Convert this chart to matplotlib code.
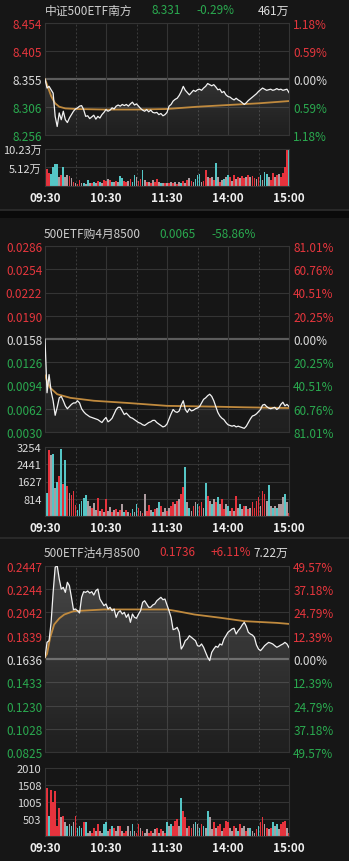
import matplotlib.pyplot as plt
from matplotlib.patches import PathPatch, Rectangle
from matplotlib.lines import Line2D
import numpy as np

plt.rcParams['font.family'] = ['Noto Sans CJK SC', 'DejaVu Sans']

BG = '#161616'
GRID = '#343434'
ZERO = '#5c5c5c'
RED = '#e5363d'
GREEN = '#2aa94f'
WHITE = '#dcdcdc'
LINE = '#f2f2f2'
AVG = '#c08a3e'
BAR = {'r': '#e6333d', 't': '#55c6c6', 'g': '#ad9ca0'}

# minutes since 09:30 (lunch break removed), one sample every 2 minutes
minutes = np.arange(0, 241, 2)
x_ticks = [0, 60, 120, 180, 240]
x_labels = ['09:30', '10:30', '11:30', '14:00', '15:00']

# ---- panel 1: 中证500ETF南方
p1 = [8.355, 8.339, 8.342, 8.336, 8.330, 8.289, 8.271, 8.295, 8.283, 8.298,
      8.283, 8.278, 8.286, 8.292, 8.298, 8.302, 8.304, 8.307, 8.308, 8.301,
      8.289, 8.290, 8.285, 8.288, 8.291, 8.284, 8.289, 8.286, 8.292, 8.296,
      8.301, 8.298, 8.300, 8.304, 8.302, 8.307, 8.309, 8.307, 8.310, 8.308,
      8.310, 8.307, 8.311, 8.314, 8.309, 8.311, 8.307, 8.303, 8.300, 8.298,
      8.301, 8.297, 8.300, 8.296, 8.295, 8.296, 8.292, 8.294, 8.290, 8.292,
      8.296, 8.307, 8.310, 8.316, 8.319, 8.321, 8.326, 8.333, 8.342, 8.335,
      8.331, 8.327, 8.331, 8.335, 8.333, 8.336, 8.337, 8.335, 8.339, 8.342,
      8.347, 8.345, 8.343, 8.345, 8.341, 8.336, 8.337, 8.331, 8.333, 8.327,
      8.324, 8.323, 8.320, 8.318, 8.321, 8.318, 8.316, 8.313, 8.310, 8.313,
      8.317, 8.320, 8.323, 8.326, 8.329, 8.333, 8.336, 8.339, 8.337, 8.335,
      8.336, 8.337, 8.335, 8.336, 8.338, 8.336, 8.337, 8.335, 8.336, 8.337,
      8.331]
avg1_t = [0, 2, 4, 6, 8, 10, 14, 20, 30, 60, 90, 120, 150, 180, 210, 240]
avg1_v = [8.355, 8.345, 8.335, 8.325, 8.318, 8.312, 8.306, 8.303, 8.302, 8.301,
          8.301, 8.302, 8.306, 8.309, 8.312, 8.316]
vol1 = [5.0, 4.6, 3.6, 3.4, 5.3, 6.2, 6.0, 2.5, 3.0, 5.3,
        2.6, 3.0, 2.7, 2.1, 1.2, 0.8, 0.6, 1.6, 0.7, 0.8,
        0.6, 1.6, 0.9, 0.8, 1.1, 0.7, 1.4, 1.2, 0.9, 1.7,
        1.4, 2.0, 1.6, 1.2, 1.0, 1.4, 1.1, 2.7, 2.1, 1.4,
        1.2, 1.5, 1.8, 1.2, 3.0, 2.5, 1.4, 1.8, 4.3, 1.6,
        1.2, 1.0, 0.8, 1.6, 1.2, 1.8, 1.0, 0.9, 0.7, 0.7,
        0.9, 0.8, 1.2, 0.7, 1.1, 0.6, 1.2, 0.8, 1.4, 0.9,
        1.6, 2.1, 1.4, 1.0, 1.8, 3.0, 3.4, 1.2, 1.4, 4.4,
        2.5, 2.1, 2.5, 1.6, 6.3, 2.6, 1.2, 1.6, 2.0, 2.4,
        3.0, 2.6, 1.5, 3.0, 1.8, 2.6, 2.2, 2.8, 2.3, 2.5,
        3.0, 2.6, 2.8, 2.2, 1.9, 2.6, 3.0, 1.6, 3.8, 3.4,
        2.6, 1.6, 3.6, 2.6, 3.0, 3.3, 2.6, 3.6, 5.3, 9.9,
        10.0]
vol1_c = ("trrttttgrt" "ggrgrgrrgt" "gtgrtgrtgr" "rgrtgrgttr" "rgrttgrrtg"
          "rgrgrrgtgr" "grgrgrgtrg" "rgrgtttgrr" "grgrtgrgtg" "trgrgrgrrg"
          "rgrrgrtgtt" "grrgrgrrrr" "t")
ticks1 = [8.256, 8.306, 8.355, 8.405, 8.454]
left1 = ['8.256', '8.306', '8.355', '8.405', '8.454']
right1 = ['1.18%', '0.59%', '0.00%', '0.59%', '1.18%']
vticks1 = [5.12, 10.23]
vlabels1 = ['5.12万', '10.23万']

# ---- panel 2: 500ETF购4月8500
p2 = [0.0158, 0.0084, 0.0109, 0.0086, 0.0073, 0.0053, 0.0064, 0.0077, 0.0079, 0.0073,
      0.0066, 0.0062, 0.0065, 0.0068, 0.0070, 0.0070, 0.0073, 0.0070, 0.0062, 0.0058,
      0.0055, 0.0053, 0.0051, 0.0050, 0.0049, 0.0048, 0.0047, 0.0045, 0.0043, 0.0047,
      0.0050, 0.0044, 0.0046, 0.0049, 0.0055, 0.0061, 0.0064, 0.0064, 0.0059, 0.0054,
      0.0056, 0.0053, 0.0050, 0.0049, 0.0047, 0.0045, 0.0043, 0.0042, 0.0040, 0.0039,
      0.0041, 0.0043, 0.0044, 0.0046, 0.0046, 0.0043, 0.0041, 0.0039, 0.0037, 0.0038,
      0.0041, 0.0048, 0.0055, 0.0061, 0.0058, 0.0057, 0.0059, 0.0067, 0.0073, 0.0061,
      0.0057, 0.0062, 0.0059, 0.0060, 0.0062, 0.0063, 0.0065, 0.0070, 0.0075, 0.0077,
      0.0080, 0.0082, 0.0079, 0.0073, 0.0065, 0.0057, 0.0052, 0.0049, 0.0047, 0.0043,
      0.0040, 0.0039, 0.0038, 0.0039, 0.0037, 0.0038, 0.0037, 0.0036, 0.0035, 0.0038,
      0.0043, 0.0048, 0.0052, 0.0053, 0.0055, 0.0058, 0.0061, 0.0067, 0.0068, 0.0065,
      0.0063, 0.0062, 0.0063, 0.0064, 0.0061, 0.0063, 0.0068, 0.0071, 0.0066, 0.0068,
      0.0065]
avg2_t = [0, 2, 5, 12, 25, 48, 81, 120, 163, 196, 240]
avg2_v = [0.0108, 0.0100, 0.0091, 0.0082, 0.0077, 0.0073, 0.0070, 0.0066, 0.0065,
          0.0064, 0.0063]
vol2 = [2142, 1100, 3095, 2857, 2936, 1300, 1600, 1900, 3174, 1500,
        2618, 1400, 1100, 1000, 1200, 500, 300, 550, 700, 850,
        1000, 700, 450, 400, 600, 300, 870, 250, 350, 200,
        800, 250, 430, 200, 300, 350, 200, 280, 560, 180,
        300, 200, 150, 320, 200, 560, 400, 250, 150, 1030,
        250, 500, 300, 180, 320, 400, 640, 480, 180, 400,
        250, 400, 480, 640, 560, 700, 800, 1030, 1350, 2300,
        640, 400, 250, 480, 640, 560, 480, 640, 400, 1540,
        950, 700, 560, 800, 640, 880, 560, 800, 320, 560,
        480, 250, 400, 250, 950, 400, 560, 320, 480, 480,
        320, 400, 640, 400, 720, 880, 480, 1190, 1030, 720,
        1470, 480, 400, 480, 400, 560, 560, 880, 1030, 640,
        160]
vol2_c = ("ttrgtgtrtr" "trgrrrtttt" "tggrggrgrg" "rggrgrgrgt" "rgrtgtrgrg"
          "rrgtrgtrgg" "rgrrgrgrrt" "gtgrgtrrgt" "rgtgrtgrrg" "tgrgrgtgrg"
          "rgrrrrgrrg" "tgtgtgggtg" "r")
ticks2 = [0.0030, 0.0062, 0.0094, 0.0126, 0.0158, 0.0190, 0.0222, 0.0254, 0.0286]
left2 = ['0.0030', '0.0062', '0.0094', '0.0126', '0.0158', '0.0190', '0.0222',
         '0.0254', '0.0286']
right2 = ['81.01%', '60.76%', '40.51%', '20.25%', '0.00%', '20.25%', '40.51%',
          '60.76%', '81.01%']
vticks2 = [814, 1627, 2441, 3254]
vlabels2 = ['814', '1627', '2441', '3254']

# ---- panel 3: 500ETF沽4月8500
p3 = [0.1650, 0.1782, 0.1796, 0.1956, 0.2217, 0.2436, 0.2450, 0.2334, 0.2246, 0.2261,
      0.2217, 0.2305, 0.2275, 0.2174, 0.2066, 0.2072, 0.2057, 0.2037, 0.2174, 0.2223,
      0.2217, 0.2229, 0.2211, 0.2223, 0.2194, 0.2232, 0.2246, 0.2159, 0.2130, 0.2101,
      0.2116, 0.2072, 0.2087, 0.2057, 0.2072, 0.1999, 0.2043, 0.2057, 0.2028, 0.2043,
      0.1999, 0.2028, 0.1956, 0.2028, 0.1999, 0.1991, 0.2028, 0.2057, 0.2130, 0.2144,
      0.2116, 0.2087, 0.2087, 0.2107, 0.2116, 0.2144, 0.2159, 0.2174, 0.2153, 0.2159,
      0.2107, 0.2057, 0.1999, 0.1892, 0.1898, 0.1912, 0.1869, 0.1723, 0.1752, 0.1796,
      0.1810, 0.1839, 0.1825, 0.1810, 0.1796, 0.1752, 0.1747, 0.1767, 0.1738, 0.1694,
      0.1651, 0.1622, 0.1694, 0.1723, 0.1747, 0.1738, 0.1767, 0.1758, 0.1810, 0.1839,
      0.1869, 0.1883, 0.1898, 0.1904, 0.1854, 0.1883, 0.1904, 0.1933, 0.1956, 0.1921,
      0.1869, 0.1854, 0.1845, 0.1825, 0.1758, 0.1723, 0.1709, 0.1729, 0.1752, 0.1767,
      0.1781, 0.1775, 0.1767, 0.1752, 0.1738, 0.1747, 0.1758, 0.1767, 0.1781, 0.1767,
      0.1736]
avg3_t = [0, 2, 5, 9, 14, 19, 28, 58, 120, 130, 147, 173, 196, 228, 240]
avg3_v = [0.1650, 0.1680, 0.1820, 0.1937, 0.1990, 0.2024, 0.2053, 0.2068, 0.2068,
          0.2053, 0.2024, 0.1995, 0.1966, 0.1951, 0.1942]
vol3 = [1960, 1420, 600, 1370, 1000, 1320, 300, 830, 550, 600,
        400, 300, 350, 300, 400, 600, 250, 300, 250, 400,
        400, 100, 150, 100, 250, 150, 350, 150, 100, 350,
        400, 150, 200, 300, 250, 150, 300, 300, 150, 100,
        150, 300, 150, 350, 150, 100, 350, 250, 150, 100,
        200, 100, 150, 100, 200, 250, 100, 200, 150, 100,
        400, 300, 350, 300, 450, 500, 300, 1130, 750, 550,
        250, 300, 250, 350, 400, 350, 250, 350, 300, 250,
        735, 550, 200, 400, 250, 300, 350, 150, 250, 450,
        400, 250, 150, 300, 250, 150, 350, 250, 300, 150,
        250, 250, 150, 100, 200, 300, 400, 550, 350, 250,
        200, 250, 400, 300, 350, 200, 350, 400, 450, 250,
        100]
vol3_c = ("rrtrrrrrgr" "gtgtgrtttr" "tggrrgrggt" "tgrtrggrgr" "rggtgrrgrg"
          "grrggrgrgr" "tgtrrrgtrr" "grrgtgtrtg" "tggrgrrgrr" "rggrgtrggr"
          "gtggrtrrgr" "grtgtgrrrg" "r")
ticks3 = [0.0825, 0.1028, 0.1230, 0.1433, 0.1636, 0.1839, 0.2042, 0.2244, 0.2447]
left3 = ['0.0825', '0.1028', '0.1230', '0.1433', '0.1636', '0.1839', '0.2042',
         '0.2244', '0.2447']
right3 = ['49.57%', '37.18%', '24.79%', '12.39%', '0.00%', '12.39%', '24.79%',
          '37.18%', '49.57%']
vticks3 = [503, 1005, 1508, 2010]
vlabels3 = ['503', '1005', '1508', '2010']

W, H = 349, 862
fig = plt.figure(figsize=(W / 100, H / 100), dpi=100, facecolor=BG)


def rect(x0, y0, x1, y1):
    # pixel box (top-left origin) -> figure fraction
    return [x0 / W, 1 - y1 / H, (x1 - x0) / W, (y1 - y0) / H]


def vgrid(ax):
    for m in [60, 120, 180]:
        ax.axvline(m, color=GRID, lw=0.8, zorder=1)
    for m in [30, 90, 150, 210]:
        ax.axvline(m, color='#3c3c3c', lw=0.7, ls=(0, (2, 2)), zorder=1)
    for s in ax.spines.values():
        s.set_color(GRID)
        s.set_linewidth(0.8)


def price_panel(box, price, avg_t, avg_v, ticks, left, right):
    ax = fig.add_axes(rect(*box), facecolor=BG)
    lo, hi = ticks[0], ticks[-1]
    mid = len(ticks) // 2
    base = ticks[mid]
    for v in ticks:
        if v == base:
            ax.axhline(v, color=ZERO, lw=1.6, zorder=1)
        else:
            ax.axhline(v, color=GRID, lw=0.8, zorder=1)
    vgrid(ax)

    poly = ax.fill_between(minutes, price, lo, facecolor='none', edgecolor='none')
    patch = PathPatch(poly.get_paths()[0], transform=ax.transData,
                      facecolor='none', edgecolor='none')
    ax.add_patch(patch)
    grad = np.zeros((256, 1, 4))
    grad[:, 0, :3] = 1.0
    grad[:, 0, 3] = np.linspace(0.21, 0.04, 256)
    im = ax.imshow(grad, extent=[0, 240, lo, hi], aspect='auto', origin='upper', zorder=2)
    im.set_clip_path(patch)

    ax.plot(avg_t, avg_v, color=AVG, lw=1.3, zorder=3)
    ax.plot(minutes, price, color=LINE, lw=0.9, zorder=4)
    ax.set_xlim(0, 240)
    ax.set_ylim(lo, hi)
    ax.set_xticks([])

    cols = [GREEN] * mid + [WHITE] + [RED] * mid
    ax.set_yticks(ticks)
    ax.set_yticklabels(left)
    ax.tick_params(axis='y', length=0, pad=2, labelsize=8.5)
    for lab, c in zip(ax.get_yticklabels(), cols):
        lab.set_color(c)

    ax2 = ax.twinx()
    ax2.set_ylim(lo, hi)
    ax2.set_yticks(ticks)
    ax2.set_yticklabels(right)
    ax2.tick_params(axis='y', length=0, pad=3, labelsize=8.5)
    for lab, c in zip(ax2.get_yticklabels(), cols):
        lab.set_color(c)
    for s in ax2.spines.values():
        s.set_visible(False)
    return ax


def volume_panel(box, vols, codes, vticks, vlabels):
    ax = fig.add_axes(rect(*box), facecolor=BG)
    for v in vticks[:-1]:
        ax.axhline(v, color=GRID, lw=0.8, zorder=1)
    vgrid(ax)
    ax.bar(minutes, vols, width=1.75, color=[BAR[c] for c in codes], linewidth=0, zorder=2)
    ax.set_xlim(0, 240)
    ax.set_ylim(0, vticks[-1])
    ax.set_yticks(vticks)
    ax.set_yticklabels(vlabels)
    ax.tick_params(axis='y', length=0, pad=2.5, labelsize=8, labelcolor=WHITE)
    ax.set_xticks(x_ticks)
    ax.set_xticklabels(x_labels)
    ax.tick_params(axis='x', length=0, pad=3.5, labelsize=8.5, labelcolor='#eeeeee')
    for lab in ax.get_xticklabels():
        lab.set_fontweight('bold')
    return ax


def header(y, items):
    for x, s, c, ha in items:
        fig.text(x / W, 1 - y / H, s, color=c, fontsize=8.5, ha=ha, va='center')


# panel 1
price_panel((45, 24, 289, 136), p1, avg1_t, avg1_v, ticks1, left1, right1)
volume_panel((45, 150, 289, 187), vol1, vol1_c, vticks1, vlabels1)
header(11, [(45, '中证500ETF南方', '#cfcfcf', 'left'), (151, '8.331', GREEN, 'left'),
            (196, '-0.29%', GREEN, 'left'), (289, '461万', WHITE, 'right')])

# panel 2
price_panel((45, 247, 289, 433), p2, avg2_t, avg2_v, ticks2, left2, right2)
volume_panel((45, 448, 289, 517), vol2, vol2_c, vticks2, vlabels2)
header(234, [(44, '500ETF购4月8500', '#cfcfcf', 'left'), (159, '0.0065', GREEN, 'left'),
             (211, '-58.86%', GREEN, 'left')])

# panel 3
price_panel((45, 567, 289, 753), p3, avg3_t, avg3_v, ticks3, left3, right3)
volume_panel((45, 769, 289, 837), vol3, vol3_c, vticks3, vlabels3)
header(553, [(44, '500ETF沽4月8500', '#cfcfcf', 'left'), (159, '0.1736', RED, 'left'),
             (211, '+6.11%', RED, 'left'), (288, '7.22万', WHITE, 'right')])

# separators between the three panels
fig.patches.append(Rectangle((0, 1 - 219 / H), 1, 8 / H, transform=fig.transFigure,
                             facecolor='#0a0a0a', edgecolor='none'))
fig.add_artist(Line2D([0, 1], [1 - 210.5 / H] * 2, color='#2e2e2e', lw=1.2))
fig.add_artist(Line2D([0, 1], [1 - 539 / H] * 2, color='#2e2e2e', lw=1.2))

fig.savefig('out.png', dpi=100, facecolor=BG)
